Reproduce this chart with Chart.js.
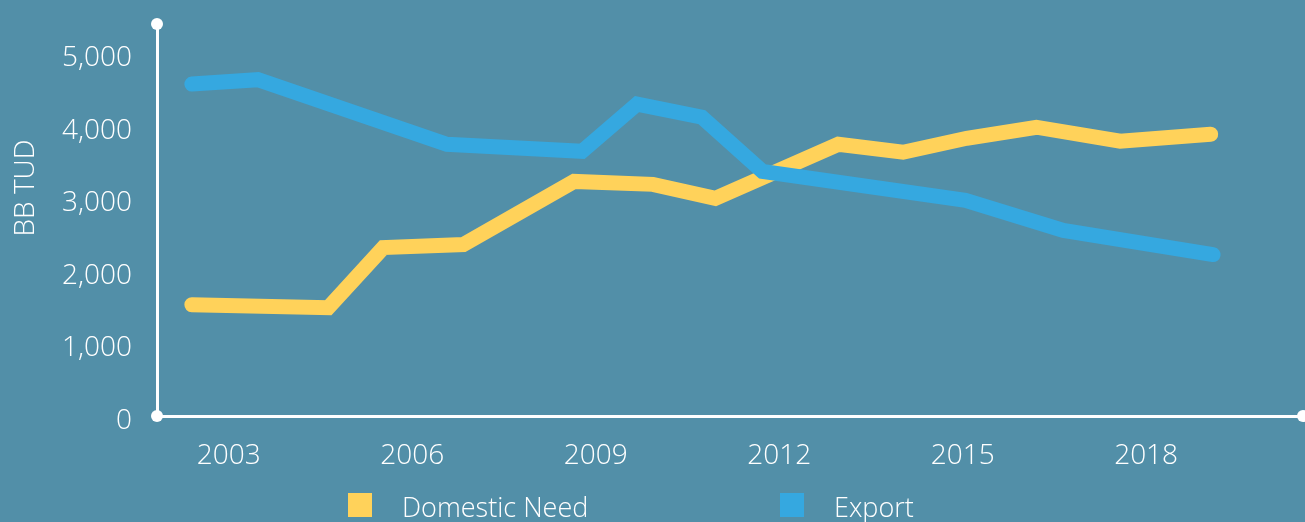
<!DOCTYPE html>
<html>
<head>
<meta charset="utf-8">
<script src="https://cdn.jsdelivr.net/npm/chart.js@4/dist/chart.umd.min.js"></script>
<style>
  html, body { margin: 0; padding: 0; background: #528FA8; overflow: hidden; }
  #wrap { width: 1305px; height: 522px; }
</style>
</head>
<body>
<div id="wrap"><canvas id="c" width="1305" height="522"></canvas></div>
<script>
// ---- data ----
const seriesNames = ["Domestic Need", "Export"];
const domesticYears  = [2002.33, 2004.56, 2005.46, 2006.77, 2008.58, 2009.87, 2010.89, 2012.90, 2013.96, 2015.00, 2016.14, 2017.51, 2018.99];
const domesticValues = [1533, 1492, 2320, 2362, 3232, 3191, 2997, 3743, 3633, 3826, 3978, 3785, 3881];
const exportYears    = [2002.33, 2003.41, 2006.50, 2008.71, 2009.61, 2010.67, 2011.66, 2014.98, 2016.58, 2019.03];
const exportValues   = [4572, 4633, 3743, 3646, 4296, 4116, 3370, 2970, 2555, 2224];
const xTickYears = [2003, 2006, 2009, 2012, 2015, 2018];
const yTickValues = [0, 1000, 2000, 3000, 4000, 5000];
const yAxisTitle = "BB TUD";

const BG = '#528FA8';
const YELLOW = '#FFD25A';
const BLUE = '#35A8E0';
const WHITE = '#FFFFFF';
const FONT = "'Open Sans', 'Noto Sans', sans-serif";

Chart.defaults.font.family = FONT;
Chart.defaults.font.weight = '300';
Chart.defaults.color = WHITE;

const toPoints = (xs, ys) => xs.map((x, i) => ({ x: x, y: ys[i] }));

const decorPlugin = {
  id: 'decor',
  beforeDraw(chart) {
    const ctx = chart.ctx;
    ctx.save();
    ctx.fillStyle = BG;
    ctx.fillRect(0, 0, chart.width, chart.height);
    ctx.restore();
  },
  afterDraw(chart) {
    const ctx = chart.ctx;
    const a = chart.chartArea;
    ctx.save();
    ctx.fillStyle = WHITE;
    [[a.left, a.top], [a.left, a.bottom], [a.right, a.bottom]].forEach(p => {
      ctx.beginPath();
      ctx.arc(p[0], p[1], 6, 0, Math.PI * 2);
      ctx.fill();
    });
    ctx.font = "300 28px " + FONT;
    ctx.fillStyle = WHITE;
    ctx.textAlign = 'center';
    ctx.textBaseline = 'middle';
    ctx.translate(26, 188);
    ctx.rotate(-Math.PI / 2);
    ctx.fillText(yAxisTitle, 0, 0);
    ctx.restore();

    ctx.save();
    const boxXs = [348, 780];
    chart.data.datasets.forEach((ds, i) => {
      ctx.fillStyle = ds.borderColor;
      ctx.fillRect(boxXs[i], 493, 24, 24);
      ctx.fillStyle = WHITE;
      ctx.font = "300 27px " + FONT;
      ctx.textAlign = 'left';
      ctx.textBaseline = 'alphabetic';
      ctx.fillText(ds.label, boxXs[i] + 54, 517);
    });
    ctx.restore();
  }
};

new Chart(document.getElementById('c'), {
  type: 'line',
  data: {
    datasets: [
      {
        label: seriesNames[0],
        data: toPoints(domesticYears, domesticValues),
        borderColor: YELLOW,
        backgroundColor: YELLOW,
        borderWidth: 15,
        borderCapStyle: 'round',
        borderJoinStyle: 'miter',
        pointRadius: 0,
        tension: 0,
        order: 1
      },
      {
        label: seriesNames[1],
        data: toPoints(exportYears, exportValues),
        borderColor: BLUE,
        backgroundColor: BLUE,
        borderWidth: 15,
        borderCapStyle: 'round',
        borderJoinStyle: 'miter',
        pointRadius: 0,
        tension: 0,
        order: 0
      }
    ]
  },
  options: {
    responsive: false,
    devicePixelRatio: 1,
    animation: false,
    layout: { padding: { top: 24, right: 2, left: 0, bottom: 0 } },
    plugins: {
      legend: { display: false },
      tooltip: { enabled: false },
      title: { display: false }
    },
    scales: {
      x: {
        type: 'linear',
        min: 2001.76,
        max: 2020.5,
        grid: { display: false, drawTicks: false },
        border: { display: true, color: WHITE, width: 3 },
        afterBuildTicks: (s) => { s.ticks = xTickYears.map(v => ({ value: v })); },
        afterFit: (s) => { s.height = 106; s.paddingLeft = 0; s.paddingRight = 0; },
        ticks: {
          color: WHITE,
          font: { size: 28, weight: '300' },
          padding: 23,
          labelOffset: -4,
          maxRotation: 0,
          autoSkip: false,
          callback: (v) => String(v)
        }
      },
      y: {
        type: 'linear',
        min: 0,
        max: 5400,
        grid: { display: false, drawTicks: false },
        border: { display: true, color: WHITE, width: 3 },
        afterBuildTicks: (s) => { s.ticks = yTickValues.map(v => ({ value: v })); },
        afterFit: (s) => { s.width = 157; s.paddingTop = 0; s.paddingBottom = 0; },
        ticks: {
          color: WHITE,
          font: { size: 28, weight: '300' },
          padding: 25,
          labelOffset: 5,
          callback: (v) => v.toLocaleString('en-US')
        }
      }
    }
  },
  plugins: [decorPlugin]
});
</script>
</body>
</html>
